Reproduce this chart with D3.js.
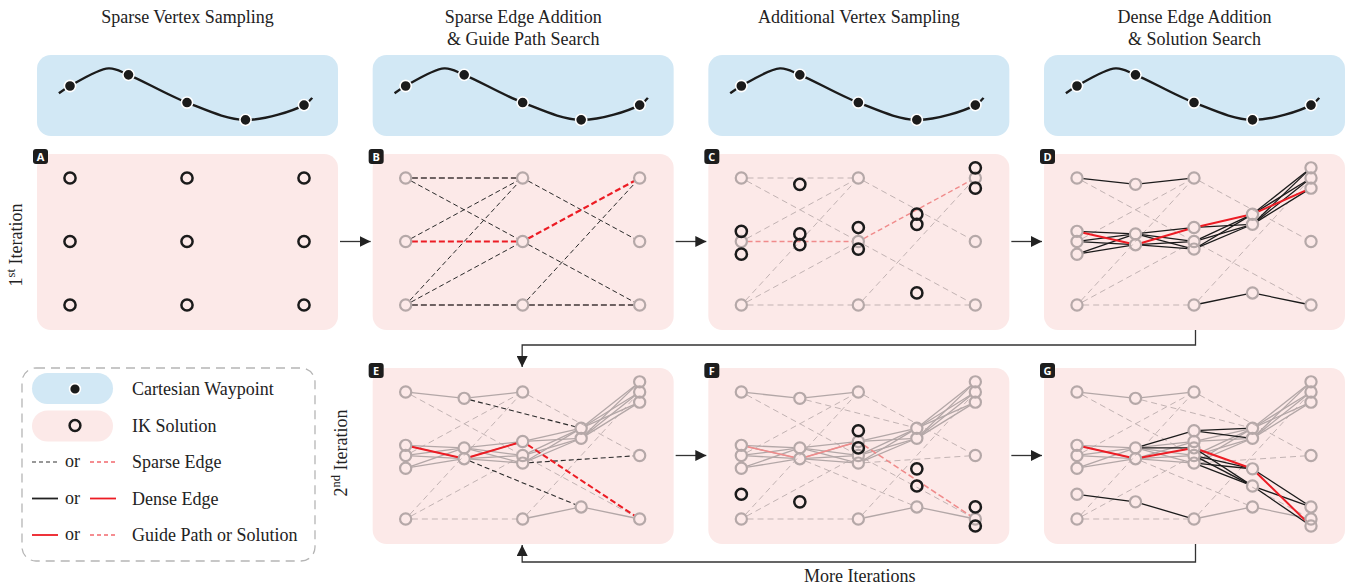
<!DOCTYPE html>
<html><head><meta charset="utf-8">
<script src="https://cdn.jsdelivr.net/npm/d3@7"></script>
<style>body{margin:0;background:#fff}svg{display:block}</style>
</head><body><svg id="c" width="1347" height="587"></svg>
<script>
// ---------------- DATA ----------------
const stageTitles = [["Sparse Vertex Sampling"], ["Sparse Edge Addition", "& Guide Path Search"], ["Additional Vertex Sampling"], ["Dense Edge Addition", "& Solution Search"]];
const panelLetters = ["A", "B", "C", "D", "E", "F", "G"];
const waypointCols = [0, 1, 2, 3, 4];
const waypointVals = [1.0, 1.31, 0.54, 0.06, 0.47];
// trajectory curve: [column position, value]
const trajectoryPts = [[-0.19, 0.8], [0, 1.0], [0.66, 1.49], [1, 1.31], [2, 0.54], [3, 0.06], [4, 0.47], [4.14, 0.67]];
const sparseCols = [0, 2, 4];
const sparseLevels = [2, 1, 0];
const newVerts1 = [[0, 1.16], [0, 0.8], [1, 1.9], [1, 1.12], [1, 0.95], [2, 1.22], [2, 0.88], [3, 1.43], [3, 1.27], [3, 0.19], [4, 2.16], [4, 1.84]];
const newVerts2 = [[0, 0.39], [1, 0.27], [2, 1.39], [2, 1.12], [3, 0.79], [3, 0.52], [4, 0.19], [4, -0.11]];
const sparseEdges1 = [[0, 2, 2, 2], [0, 2, 2, 1], [0, 1, 2, 2], [0, 1, 2, 1], [0, 0, 2, 2], [0, 0, 2, 1], [0, 0, 2, 0], [2, 2, 4, 1], [2, 1, 4, 2], [2, 1, 4, 0], [2, 0, 4, 2], [2, 0, 4, 0]];
const guidePath1 = [[0, 1, 2, 1], [2, 1, 4, 2]];
const replacedSparse1 = [[0, 2, 2, 2], [0, 1, 2, 1], [2, 1, 4, 2], [2, 0, 4, 0]];
const denseEdges1 = [[0, 2, 1, 1.9], [1, 1.9, 2, 2],
  [0, 1.16, 1, 1.12], [0, 1.16, 1, 0.95], [0, 1, 1, 1.12], [0, 1, 1, 0.95], [0, 0.8, 1, 1.12], [0, 0.8, 1, 0.95],
  [1, 1.12, 2, 1.22], [1, 1.12, 2, 1], [1, 1.12, 2, 0.88], [1, 0.95, 2, 1.22], [1, 0.95, 2, 1], [1, 0.95, 2, 0.88],
  [2, 1.22, 3, 1.43], [2, 1.22, 3, 1.27], [2, 1, 3, 1.43], [2, 1, 3, 1.27], [2, 0.88, 3, 1.43], [2, 0.88, 3, 1.27],
  [3, 1.43, 4, 2.16], [3, 1.43, 4, 2], [3, 1.43, 4, 1.84], [3, 1.27, 4, 2.16], [3, 1.27, 4, 2], [3, 1.27, 4, 1.84],
  [2, 0, 3, 0.19], [3, 0.19, 4, 0]];
const solution1 = [[0, 1.16, 1, 0.95], [1, 0.95, 2, 1.22], [2, 1.22, 3, 1.43], [3, 1.43, 4, 1.84]];
const sparseEdges2 = [[1, 1.9, 3, 1.43], [2, 0.88, 4, 1], [1, 0.95, 3, 0.19]];
const guidePath2Dense = [[0, 1.16, 1, 0.95], [1, 0.95, 2, 1.22]];
const guidePath2Sparse = [[2, 1.22, 4, 0]];
const denseEdges2 = [[0, 0.39, 1, 0.27], [1, 0.27, 2, 0],
  [1, 1.12, 2, 1.39], [1, 1.12, 2, 1.12],
  [2, 1.39, 3, 1.43], [2, 1.39, 3, 1.27],
  [2, 1.12, 3, 0.52], [2, 1, 3, 0.79], [2, 1, 3, 0.52], [2, 0.88, 3, 0.79], [2, 0.88, 3, 0.52],
  [3, 0.79, 4, 0.19], [3, 0.52, 4, 0.19], [3, 0.52, 4, -0.11]];
const solution2 = [[0, 1.16, 1, 0.95], [1, 0.95, 2, 1.12], [2, 1.12, 3, 0.79], [3, 0.79, 4, -0.11]];
const legendLabels = ["Cartesian Waypoint", "IK Solution", "Sparse Edge", "Dense Edge", "Guide Path or Solution"];
const moreLabel = "More Iterations";

// ---------------- LAYOUT ----------------
const svg = d3.select("#c");
const SERIF = "'Liberation Serif','DejaVu Serif',serif";
const FS = 18;
const C = {blue: "#d2e8f5", pink: "#fce9e8", ink: "#1b1b1b", grey: "#b5a8a8", pale: "#c2b3b3", paleSolid: "#b3a7a7", red: "#ec1c24", paleRed: "#f08b8b"};
const panelX = d3.scaleLinear().domain([0, 3]).range([37, 1044]);
const rowTop = d3.scaleOrdinal().domain([0, 1]).range([154, 368]);
const PW = 301, PH = 176;
const colX = d3.scaleLinear().domain([0, 4]).range([33, 267]);
const nodeY = d3.scaleLinear().domain([0, 2]).range([151, 24]);
const wpY = d3.scaleLinear().domain([0, 1]).range([67, 31]);
const R = 5.6;

// titles
stageTitles.forEach((lines, i) => {
  const t = svg.append("text").attr("x", panelX(i) + PW / 2).attr("y", 23)
    .attr("text-anchor", "middle").attr("font-family", SERIF).attr("font-size", FS).attr("fill", "#222");
  lines.forEach((l, j) => t.append("tspan").attr("x", panelX(i) + PW / 2).attr("dy", j ? 22 : 0).text(l));
});

// blue panels with waypoints
const wpLine = d3.line().x(d => colX(d[0])).y(d => wpY(d[1])).curve(d3.curveCatmullRom.alpha(0.5));
stageTitles.forEach((_, i) => {
  const g = svg.append("g").attr("transform", `translate(${panelX(i)},55)`);
  g.append("rect").attr("width", PW).attr("height", 81).attr("rx", 14).attr("fill", C.blue);
  g.append("path").attr("d", wpLine(trajectoryPts)).attr("fill", "none").attr("stroke", C.ink).attr("stroke-width", 2.4);
  g.selectAll("circle").data(waypointCols).join("circle")
    .attr("cx", c => colX(c)).attr("cy", (c, k) => wpY(waypointVals[k])).attr("r", 5.6)
    .attr("fill", C.ink).attr("stroke", "#fff").attr("stroke-width", 1.6);
});

// panel helpers
const panelSpecs = [{r: 0, c: 0}, {r: 0, c: 1}, {r: 0, c: 2}, {r: 0, c: 3}, {r: 1, c: 1}, {r: 1, c: 2}, {r: 1, c: 3}];
const sparseVerts = sparseCols.flatMap(c => sparseLevels.map(v => [c, v]));
function panelG(idx) {
  const s = panelSpecs[idx];
  const g = svg.append("g").attr("transform", `translate(${panelX(s.c)},${rowTop(s.r)})`);
  g.append("rect").attr("width", PW).attr("height", PH).attr("rx", 14).attr("fill", C.pink);
  return g;
}
function edges(g, list, stroke, width, dash) {
  g.append("g").selectAll("line").data(list).join("line")
    .each(function (e) {
      const x1 = colX(e[0]), y1 = nodeY(e[1]), x2 = colX(e[2]), y2 = nodeY(e[3]);
      const L = Math.hypot(x2 - x1, y2 - y1), ux = (x2 - x1) / L, uy = (y2 - y1) / L, t = R + 0.6;
      d3.select(this).attr("x1", x1 + ux * t).attr("y1", y1 + uy * t).attr("x2", x2 - ux * t).attr("y2", y2 - uy * t);
    })
    .attr("stroke", stroke).attr("stroke-width", width).attr("stroke-dasharray", dash || null).attr("fill", "none");
}
function nodes(g, list, stroke, width) {
  g.append("g").selectAll("circle").data(list).join("circle")
    .attr("cx", d => colX(d[0])).attr("cy", d => nodeY(d[1])).attr("r", R)
    .attr("fill", "none").attr("stroke", stroke).attr("stroke-width", width);
}
const isFlat = e => e[1] === e[3];
const same = (a, b) => a.every((v, i) => v === b[i]);
const remaining1 = sparseEdges1.filter(e => !replacedSparse1.some(r => same(r, e)));
const allVerts1 = sparseVerts.concat(newVerts1);
const allVerts2 = allVerts1.concat(newVerts2);

// A
let g = panelG(0);
nodes(g, sparseVerts, C.ink, 2.5);
// B
g = panelG(1);
edges(g, sparseEdges1.filter(e => !isFlat(e) && !guidePath1.some(r => same(r, e))), "#2a2a2a", 1, "5,3");
edges(g, sparseEdges1.filter(isFlat).filter(e => !guidePath1.some(r => same(r, e))), "#6e6262", 1.8, "6,3");
edges(g, guidePath1, C.red, 2.2, "6,3");
nodes(g, sparseVerts, C.grey, 2.2);
// C
g = panelG(2);
edges(g, sparseEdges1.filter(e => !guidePath1.some(r => same(r, e))), C.pale, 1, "6,4");
edges(g, guidePath1, C.paleRed, 1.4, "5,3");
nodes(g, sparseVerts, C.grey, 2.2);
nodes(g, newVerts1, C.ink, 2.5);
// D
g = panelG(3);
edges(g, remaining1, C.pale, 1, "6,4");
edges(g, denseEdges1.filter(e => !solution1.some(r => same(r, e))), C.ink, 1.3);
edges(g, solution1, C.red, 2);
nodes(g, allVerts1, C.grey, 2.2);
// E
g = panelG(4);
edges(g, remaining1, C.pale, 1, "6,4");
edges(g, denseEdges1, C.paleSolid, 1.3);
edges(g, sparseEdges2, "#2a2a2a", 1.1, "5,3");
edges(g, guidePath2Dense, C.red, 2);
edges(g, guidePath2Sparse, C.red, 2, "6,3");
nodes(g, allVerts1, C.grey, 2.2);
// F
g = panelG(5);
edges(g, remaining1.concat(sparseEdges2), C.pale, 1, "6,4");
edges(g, denseEdges1, C.paleSolid, 1.3);
edges(g, guidePath2Dense, C.paleRed, 1.6);
edges(g, guidePath2Sparse, C.paleRed, 1.6, "6,3");
nodes(g, allVerts1, C.grey, 2.2);
nodes(g, newVerts2, C.ink, 2.5);
// G
g = panelG(6);
edges(g, remaining1.concat(sparseEdges2), C.pale, 1, "6,4");
edges(g, denseEdges1, C.paleSolid, 1.3);
edges(g, denseEdges2, C.ink, 1.3);
edges(g, solution2, C.red, 2);
nodes(g, allVerts2, C.grey, 2.2);

// badges
panelSpecs.forEach((s, i) => {
  const x = panelX(s.c) - 4, y = rowTop(s.r) - 5;
  svg.append("rect").attr("x", x).attr("y", y).attr("width", 15).attr("height", 15).attr("rx", 3).attr("fill", "#1d1d1d");
  svg.append("text").attr("x", x + 7.5).attr("y", y + 11.5).attr("text-anchor", "middle")
    .attr("font-family", "'Open Sans','DejaVu Sans',sans-serif").attr("font-weight", 700).attr("font-size", 11)
    .attr("fill", "#fff").text(panelLetters[i]);
});

// arrows
const defs = svg.append("defs");
defs.append("marker").attr("id", "ah").attr("viewBox", "0 0 10 10").attr("refX", 10).attr("refY", 5)
  .attr("markerWidth", 11).attr("markerHeight", 11).attr("markerUnits", "userSpaceOnUse").attr("orient", "auto")
  .append("path").attr("d", "M0,0L10,5L0,10Z").attr("fill", "#222");
const arrow = (pts) => svg.append("path").attr("d", d3.line()(pts)).attr("fill", "none")
  .attr("stroke", "#333").attr("stroke-width", 1.3).attr("marker-end", "url(#ah)");
[[0, 0], [0, 1], [0, 2], [1, 1], [1, 2]].forEach(([r, c]) => {
  const y = rowTop(r) + nodeY(1);
  arrow([[panelX(c) + PW + 2, y], [panelX(c + 1) - 2, y]]);
});
const dX = panelX(3) + PW / 2 + 1, eX = panelX(1) + PW / 2 - 1;
arrow([[dX, rowTop(0) + PH], [dX, 345], [eX, 345], [eX, rowTop(1) - 1]]);
arrow([[dX, rowTop(1) + PH], [dX, 562], [eX, 562], [eX, rowTop(1) + PH + 1]]);
svg.append("text").attr("x", panelX(2) + PW / 2 + 1).attr("y", 582).attr("text-anchor", "middle")
  .attr("font-family", SERIF).attr("font-size", FS).attr("fill", "#222").text(moreLabel);

// side labels
function sideLabel(x, y, num, sup) {
  const t = svg.append("text").attr("transform", `translate(${x},${y}) rotate(-90)`).attr("text-anchor", "middle")
    .attr("font-family", SERIF).attr("font-size", FS).attr("fill", "#222");
  t.append("tspan").text(num);
  t.append("tspan").attr("font-size", 12.5).attr("dy", -7).text(sup);
  t.append("tspan").attr("dy", 7).text(" Iteration");
}
sideLabel(22, 245, "1", "st");
sideLabel(347, 453, "2", "nd");

// legend
const lg = svg.append("g");
lg.append("rect").attr("x", 22).attr("y", 368).attr("width", 293).attr("height", 193).attr("rx", 14)
  .attr("fill", "none").attr("stroke", "#b5b5b5").attr("stroke-width", 1.3).attr("stroke-dasharray", "9,6");
const legY = d3.scalePoint().domain(legendLabels).range([389, 535]);
legendLabels.forEach((lab, i) => {
  const y = legY(lab);
  lg.append("text").attr("x", 132).attr("y", y + 6).attr("font-family", SERIF).attr("font-size", FS)
    .attr("fill", "#222").text(lab);
});
let y0 = legY(legendLabels[0]);
lg.append("rect").attr("x", 32).attr("y", y0 - 16).attr("width", 81).attr("height", 31).attr("rx", 15.5).attr("fill", C.blue);
lg.append("circle").attr("cx", 75).attr("cy", y0).attr("r", 5.4).attr("fill", C.ink).attr("stroke", "#fff").attr("stroke-width", 1.6);
y0 = legY(legendLabels[1]);
lg.append("rect").attr("x", 32).attr("y", y0 - 15).attr("width", 81).attr("height", 31).attr("rx", 15.5).attr("fill", C.pink);
lg.append("circle").attr("cx", 75).attr("cy", y0).attr("r", 5.4).attr("fill", "none").attr("stroke", C.ink).attr("stroke-width", 2.5);
const legLines = [[["#333", "4,3"], [C.red, "4,3"]], [["#222", null], [C.red, null]], [[C.red, null], [C.red, "4,3"]]];
legLines.forEach((pair, k) => {
  const y = legY(legendLabels[k + 2]);
  pair.forEach(([col, dash], j) => {
    lg.append("line").attr("x1", j ? 90 : 32).attr("x2", j ? 116 : 58).attr("y1", y).attr("y2", y)
      .attr("stroke", col).attr("stroke-width", dash ? 1.2 : 1.8).attr("stroke-dasharray", dash);
  });
  lg.append("text").attr("x", 65).attr("y", y + 5).attr("font-family", SERIF).attr("font-size", FS).attr("fill", "#222").text("or");
});
</script>
</body></html>
